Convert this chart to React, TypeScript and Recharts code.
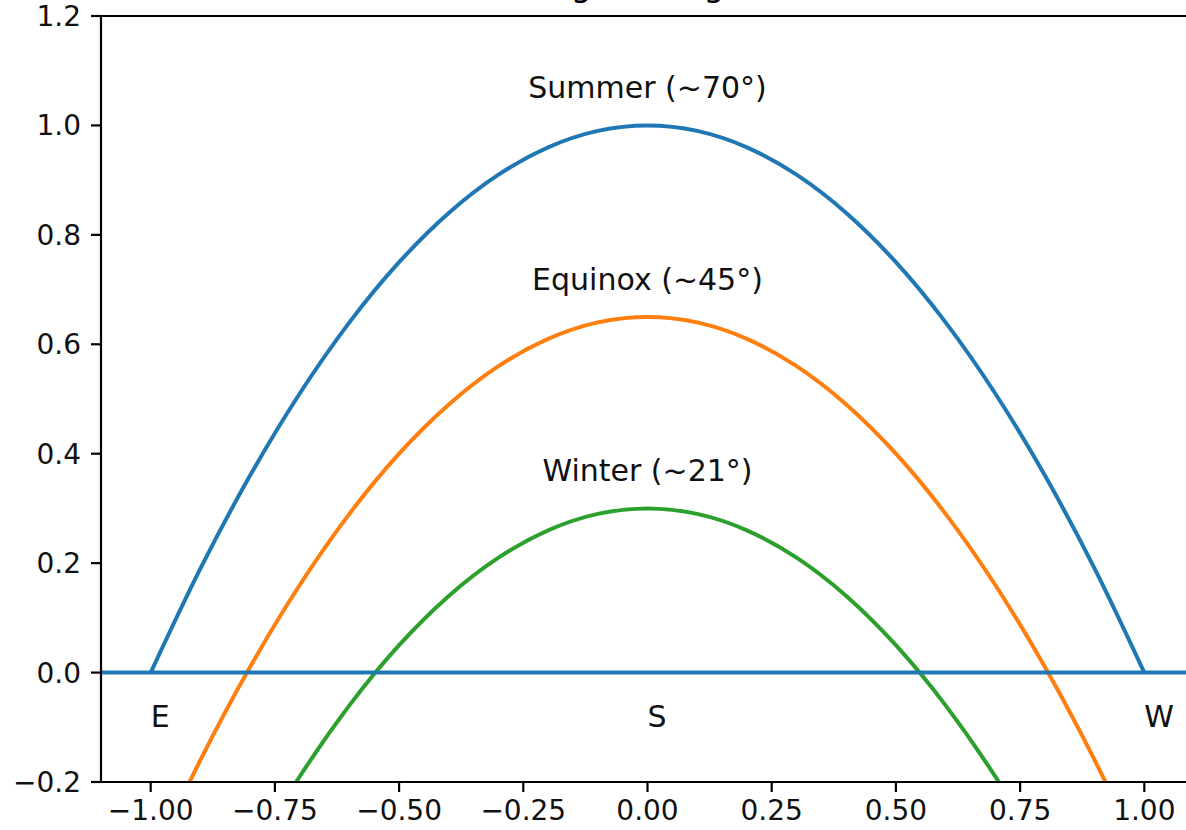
import { LineChart, Line, XAxis, YAxis, ReferenceLine, ReferenceDot } from 'recharts';

// horizontal position along the horizon, E (-1) to W (+1)
const positions = [-1.0, -0.9, -0.8, -0.7, -0.6, -0.5, -0.4, -0.3, -0.2, -0.1, 0.0, 0.1, 0.2, 0.3, 0.4, 0.5, 0.6, 0.7, 0.8, 0.9, 1.0];

// relative sun height
const summerHeight = [0.0, 0.19, 0.36, 0.51, 0.64, 0.75, 0.84, 0.91, 0.96, 0.99, 1.0, 0.99, 0.96, 0.91, 0.84, 0.75, 0.64, 0.51, 0.36, 0.19, 0.0];
const equinoxHeight = [-0.35, -0.16, 0.01, 0.16, 0.29, 0.4, 0.49, 0.56, 0.61, 0.64, 0.65, 0.64, 0.61, 0.56, 0.49, 0.4, 0.29, 0.16, 0.01, -0.16, -0.35];
const winterHeight = [-0.7, -0.51, -0.34, -0.19, -0.06, 0.05, 0.14, 0.21, 0.26, 0.29, 0.3, 0.29, 0.26, 0.21, 0.14, 0.05, -0.06, -0.19, -0.34, -0.51, -0.7];

const xTicks = [-1.0, -0.75, -0.5, -0.25, 0.0, 0.25, 0.5, 0.75, 1.0];
const yTicks = [-0.2, 0.0, 0.2, 0.4, 0.6, 0.8, 1.0, 1.2];

const seasonLabels = [
  { text: 'Summer (~70°)', x: 0, y: 1.05 },
  { text: 'Equinox (~45°)', x: 0, y: 0.7 },
  { text: 'Winter (~21°)', x: 0, y: 0.35 },
];
const directionLabels = [
  { text: 'E', x: -1, y: -0.1 },
  { text: 'S', x: 0, y: -0.1 },
  { text: 'W', x: 1, y: -0.1 },
];

const data = positions.map((x, i) => ({
  x,
  summer: summerHeight[i],
  equinox: equinoxHeight[i],
  winter: winterHeight[i],
}));

const FONT = 'DejaVu Sans';
const fmt = (digits: number) => (v: number) => (v < 0 ? '\u2212' : '') + Math.abs(v).toFixed(digits);

const textLabel = (text: string, anchor: 'middle' | 'start') => (props: any) => {
  const vb = props.viewBox || {};
  return (
    <text x={vb.x} y={vb.y} textAnchor={anchor} fontFamily={FONT} fontSize={30} fill="#111">
      {text}
    </text>
  );
};

export default function App() {
  return (
    <div style={{ position: 'absolute', left: 0, top: 0, width: 1186, height: 830, overflow: 'hidden', background: '#fff' }}>
      <div
        style={{
          position: 'absolute',
          top: -32,
          left: 0,
          width: 1294,
          textAlign: 'center',
          fontFamily: FONT,
          fontSize: 33,
          lineHeight: '33px',
          color: '#000',
          whiteSpace: 'nowrap',
        }}
      >
        Seasonal Sun Angles Diagram (Schematic)
      </div>
      <LineChart width={1200} height={830} data={data} margin={{ top: 16, right: 6, bottom: 0, left: 0 }}>
        <XAxis
          dataKey="x"
          type="number"
          domain={[-1.1, 1.1]}
          allowDataOverflow
          ticks={xTicks}
          tickFormatter={fmt(2)}
          height={48}
          tickSize={10}
          tickMargin={8}
          stroke="#000"
          strokeWidth={2.2}
          tick={{ fill: '#111', fontSize: 28, fontFamily: FONT }}
          interval={0}
        />
        <YAxis
          type="number"
          domain={[-0.2, 1.2]}
          allowDataOverflow
          ticks={yTicks}
          tickFormatter={fmt(1)}
          width={101}
          tickSize={10}
          tickMargin={10}
          stroke="#000"
          strokeWidth={2.2}
          tick={{ fill: '#111', fontSize: 28, fontFamily: FONT }}
          interval={0}
        />
        <ReferenceLine y={1.2} stroke="#000" strokeWidth={2.2} />
        <ReferenceLine x={1.1} stroke="#000" strokeWidth={2.2} />
        <Line dataKey="summer" type="monotone" stroke="#1f77b4" strokeWidth={4} dot={false} activeDot={false} isAnimationActive={false} />
        <Line dataKey="equinox" type="monotone" stroke="#ff7f0e" strokeWidth={4} dot={false} activeDot={false} isAnimationActive={false} />
        <Line dataKey="winter" type="monotone" stroke="#2ca02c" strokeWidth={4} dot={false} activeDot={false} isAnimationActive={false} />
        <ReferenceLine y={0} stroke="#1f77b4" strokeWidth={4} />
        {seasonLabels.map((l) => (
          <ReferenceDot key={l.text} x={l.x} y={l.y} r={0} fill="none" stroke="none" label={textLabel(l.text, 'middle')} />
        ))}
        {directionLabels.map((l) => (
          <ReferenceDot key={l.text} x={l.x} y={l.y} r={0} fill="none" stroke="none" label={textLabel(l.text, 'start')} />
        ))}
      </LineChart>
    </div>
  );
}
